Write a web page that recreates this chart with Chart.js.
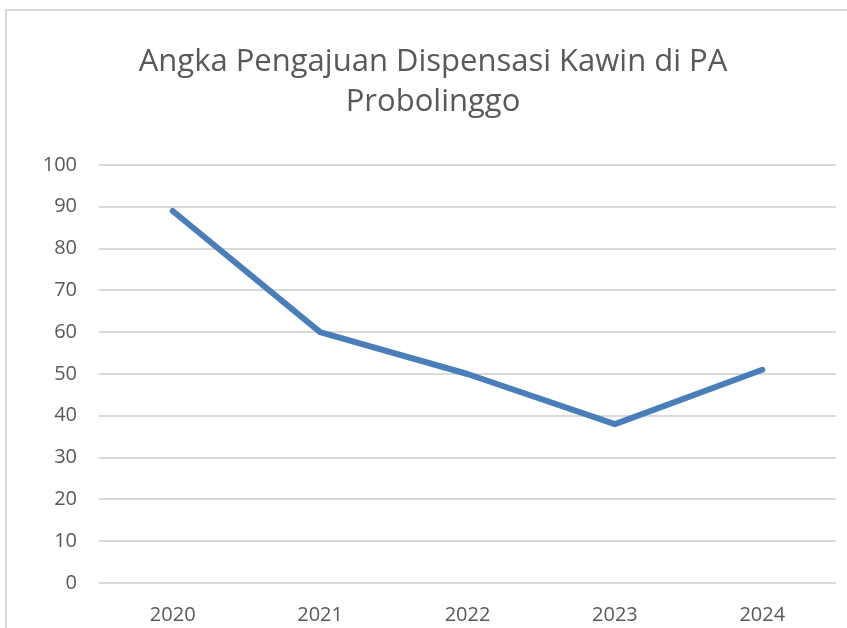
<!DOCTYPE html>
<html>
<head>
<meta charset="utf-8">
<script src="https://cdn.jsdelivr.net/npm/chart.js@4.4.0/dist/chart.umd.min.js"></script>
<style>
  html, body { margin: 0; padding: 0; background: #fff; overflow: hidden; }
  #frame {
    position: absolute; left: 5px; top: 9px; width: 900px; height: 700px;
    border: 2px solid #d9d9d9; box-sizing: border-box;
  }
  #wrap { position: absolute; left: 0; top: 0; width: 847px; height: 628px; }
</style>
</head>
<body>
<div id="frame"></div>
<div id="wrap"><canvas id="chart" width="847" height="628"></canvas></div>
<script>
// chart data
const years = ['2020', '2021', '2022', '2023', '2024'];
const pengajuan = [89, 60, 50, 38, 51];
const titleLines = ['Angka Pengajuan Dispensasi Kawin di PA', 'Probolinggo'];

const textGrey = '#595959';
const fontFamily = "'Open Sans', 'Liberation Sans', sans-serif";

new Chart(document.getElementById('chart').getContext('2d'), {
    type: 'line',
    data: {
        labels: years,
        datasets: [{
            data: pengajuan,
            borderColor: '#4a7ebb',
            borderWidth: 6,
            borderCapStyle: 'round',
            borderJoinStyle: 'round',
            pointRadius: 0,
            tension: 0,
            fill: false
        }]
    },
    options: {
        responsive: false,
        animation: false,
        // left padding shifts the title centre to match the reference
        layout: { padding: { left: 30, right: 11, top: 0, bottom: 0 } },
        plugins: {
            legend: { display: false },
            tooltip: { enabled: false },
            title: {
                display: true,
                text: titleLines,
                color: textGrey,
                font: { family: fontFamily, size: 31, weight: 'normal', lineHeight: 1.29 },
                padding: { top: 42, bottom: 43 }
            }
        },
        scales: {
            x: {
                offset: true,
                grid: { display: false, drawTicks: false },
                border: { display: false },
                ticks: { color: textGrey, font: { family: fontFamily, size: 20 }, padding: 20 },
                afterFit: (axis) => { axis.height = 45; }
            },
            y: {
                min: 0,
                max: 100,
                grid: { color: '#d9d9d9', lineWidth: 2, drawTicks: false },
                border: { display: false },
                ticks: { stepSize: 10, color: textGrey, font: { family: fontFamily, size: 20 }, padding: 22 },
                afterFit: (axis) => { axis.width = 69; }
            }
        }
    }
});
</script>
</body>
</html>
